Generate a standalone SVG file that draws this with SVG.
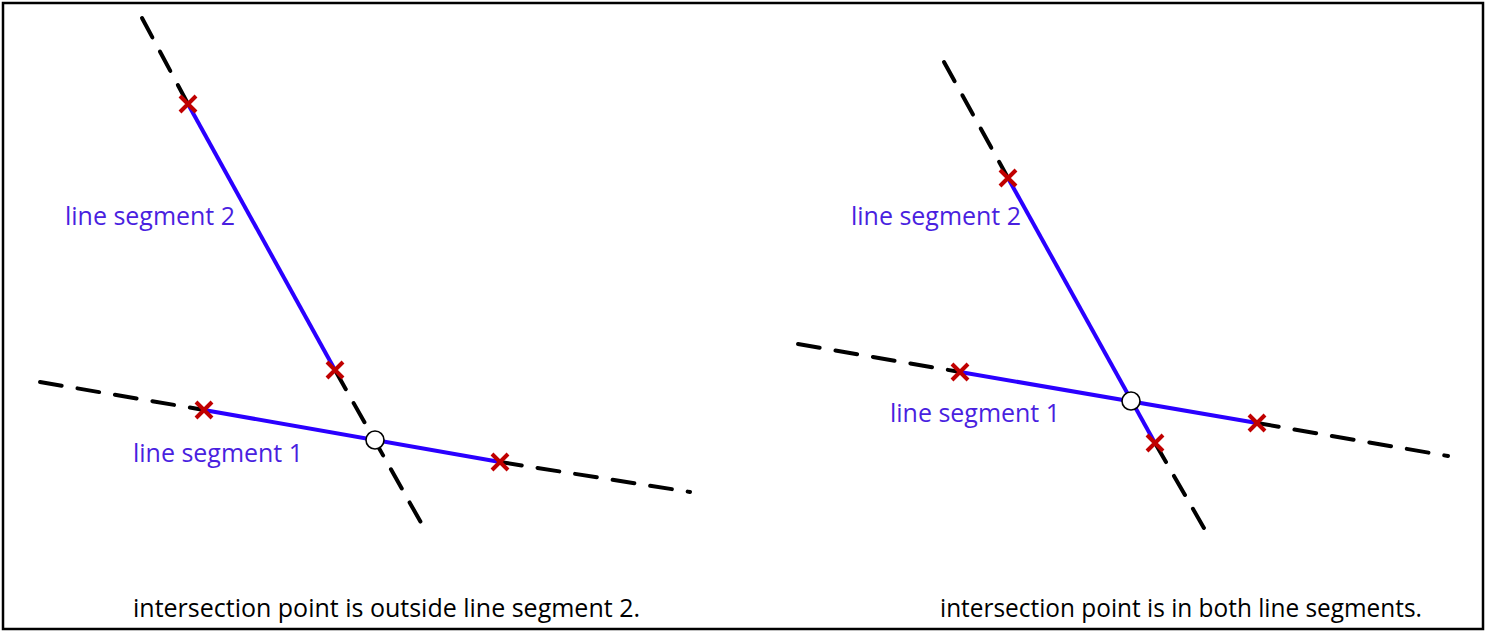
<svg xmlns="http://www.w3.org/2000/svg" width="1486" height="634" viewBox="0 0 1486 634">
<defs>
<style>
.dash{stroke:#000;stroke-width:4;stroke-dasharray:22 16;fill:none;stroke-linecap:round}
.seg{stroke:#2a00ff;stroke-width:4;fill:none}
.x{stroke:#c00000;stroke-width:4;fill:none}
.pt{fill:#fff;stroke:#000;stroke-width:1.6}
.lbl{font-family:"Open Sans","Liberation Sans",sans-serif;font-size:25px;fill:#4a1fe0}
.cap{font-family:"Open Sans","Liberation Sans",sans-serif;font-size:25px;fill:#000}
</style>
<g id="xm"><path class="x" d="M-8,-8L8,8M8,-8L-8,8"/></g>
</defs>
<rect x="3" y="3" width="1480" height="626" fill="#fff" stroke="#000" stroke-width="2.5"/>
<g id="connectors">
<line class="dash" x1="142" y1="18" x2="188" y2="104"/>
<line class="dash" x1="335" y1="370" x2="424" y2="528"/>
<line class="dash" x1="40" y1="382" x2="204" y2="410"/>
<line class="dash" x1="500" y1="462" x2="690" y2="492"/>
<line class="seg" x1="188" y1="104" x2="335" y2="370"/>
<line class="seg" x1="204" y1="410" x2="500" y2="462"/>
<line class="dash" x1="944" y1="62" x2="1008" y2="178"/>
<line class="dash" x1="1155" y1="443" x2="1208" y2="535"/>
<line class="dash" x1="798" y1="344" x2="960" y2="372"/>
<line class="dash" x1="1257" y1="423" x2="1448" y2="456"/>
<line class="seg" x1="1008" y1="178" x2="1155" y2="443"/>
<line class="seg" x1="960" y1="372" x2="1257" y2="423"/>
</g>
<g id="left">
<use href="#xm" x="188" y="104"/>
<use href="#xm" x="335" y="370"/>
<use href="#xm" x="204" y="410"/>
<use href="#xm" x="500" y="462"/>
<circle class="pt" cx="375" cy="440" r="9"/>
<text class="lbl" x="65" y="225" textLength="170" lengthAdjust="spacingAndGlyphs">line segment 2</text>
<text class="lbl" x="133" y="462" textLength="170" lengthAdjust="spacingAndGlyphs">line segment 1</text>
<text class="cap" x="133" y="617" textLength="507" lengthAdjust="spacingAndGlyphs">intersection point is outside line segment 2.</text>
</g>
<g id="right">
<use href="#xm" x="1008" y="178"/>
<use href="#xm" x="1155" y="443"/>
<use href="#xm" x="960" y="372"/>
<use href="#xm" x="1257" y="423"/>
<circle class="pt" cx="1131" cy="401" r="9"/>
<text class="lbl" x="851" y="225" textLength="170" lengthAdjust="spacingAndGlyphs">line segment 2</text>
<text class="lbl" x="890" y="422" textLength="170" lengthAdjust="spacingAndGlyphs">line segment 1</text>
<text class="cap" x="940" y="617" textLength="482" lengthAdjust="spacingAndGlyphs">intersection point is in both line segments.</text>
</g>
</svg>
